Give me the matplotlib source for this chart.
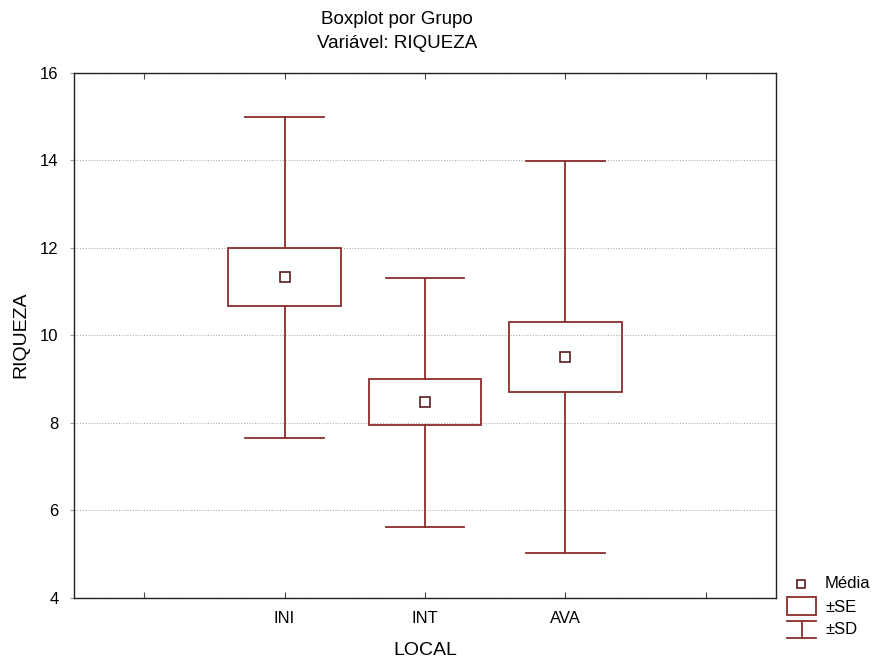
#!/usr/bin/env python3

import matplotlib
matplotlib.use("Agg")
import matplotlib.pyplot as plt
from matplotlib.lines import Line2D
from matplotlib.patches import Rectangle

groups = ["INI", "INT", "AVA"]
means = [11.33, 8.47, 9.50]
se = [0.67, 0.52, 0.80]
sd = [3.67, 2.85, 4.48]

W, H = 880, 661
RED = "#8b2d2d"
DARK = "#5a1e1e"

plt.rcParams["font.family"] = ["Liberation Sans", "DejaVu Sans"]

fig = plt.figure(figsize=(W / 100, H / 100), dpi=100)
# axes box in pixels : left 74, right 776, top 73, bottom 597.5
ax = fig.add_axes([74 / W, 1 - 597.5 / H, (776 - 74) / W, (597.5 - 73) / H])


def px(x, y):
    return x / W, 1 - y / H


box_w = 0.8
cap_w = 0.56
lw = 1.3
for i, (m, e, s) in enumerate(zip(means, se, sd)):
    # whiskers (±SD)
    ax.plot([i, i], [m + e, m + s], color=RED, lw=lw, zorder=3)
    ax.plot([i, i], [m - s, m - e], color=RED, lw=lw, zorder=3)
    ax.plot([i - cap_w / 2, i + cap_w / 2], [m + s, m + s], color=RED, lw=lw, zorder=3)
    ax.plot([i - cap_w / 2, i + cap_w / 2], [m - s, m - s], color=RED, lw=lw, zorder=3)
    # box (±SE)
    ax.add_patch(Rectangle((i - box_w / 2, m - e), box_w, 2 * e, fill=False,
                           edgecolor=RED, lw=lw, zorder=3))
    # mean
    ax.plot([i], [m], marker="s", ms=6.5, mfc="white", mec=DARK, mew=1.2, zorder=4)

ax.set_xlim(-1.5, 3.5)
ax.set_ylim(4, 16)
ax.set_xticks([-1, 0, 1, 2, 3])
ax.set_xticklabels([""] + groups + [""])
ax.set_yticks([4, 6, 8, 10, 12, 14, 16])

ax.grid(axis="y", color="#b0b0b0", linestyle=(0, (1, 1.5)), linewidth=0.8)
ax.set_axisbelow(True)

ax.tick_params(axis="x", direction="in", length=4, top=True, labelsize=12, pad=10, color="#444444")
ax.tick_params(axis="y", direction="out", length=3, labelsize=12, pad=8, color="#999999")
for sp in ax.spines.values():
    sp.set_linewidth(1.0)
    sp.set_color("#222222")

ax.set_xlabel("LOCAL", fontsize=14, labelpad=11)
ax.set_ylabel("RIQUEZA", fontsize=14, labelpad=8)

# title (two lines, centred a bit left of the axes centre like the original)
fig.text(*px(397, 20), "Boxplot por Grupo", ha="center", va="center", fontsize=13.5)
fig.text(*px(397, 43), "Variável: RIQUEZA", ha="center", va="center", fontsize=13.5)

# legend drawn by hand, outside the axes at the lower right
fig.add_artist(Line2D(*zip(px(801, 583.5)), marker="s", ms=5.5, mfc="white", mec=DARK, mew=1.2,
                      transform=fig.transFigure))
x0, y0 = px(787, 615)
x1, y1 = px(816, 597)
fig.add_artist(Rectangle((x0, y0), x1 - x0, y1 - y0, fill=False, edgecolor=RED, lw=lw,
                         transform=fig.transFigure))
for ya in [621, 638]:
    fig.add_artist(Line2D([787 / W, 816 / W], [1 - ya / H, 1 - ya / H], color=RED, lw=lw,
                          transform=fig.transFigure))
fig.add_artist(Line2D([801.5 / W, 801.5 / W], [1 - 621 / H, 1 - 638 / H], color=RED, lw=lw,
                      transform=fig.transFigure))
fig.text(*px(825, 583), "Média", va="center", fontsize=12)
fig.text(*px(825, 607), "±SE", va="center", fontsize=12)
fig.text(*px(825, 629), "±SD", va="center", fontsize=12)

fig.savefig("out.png", dpi=100)
